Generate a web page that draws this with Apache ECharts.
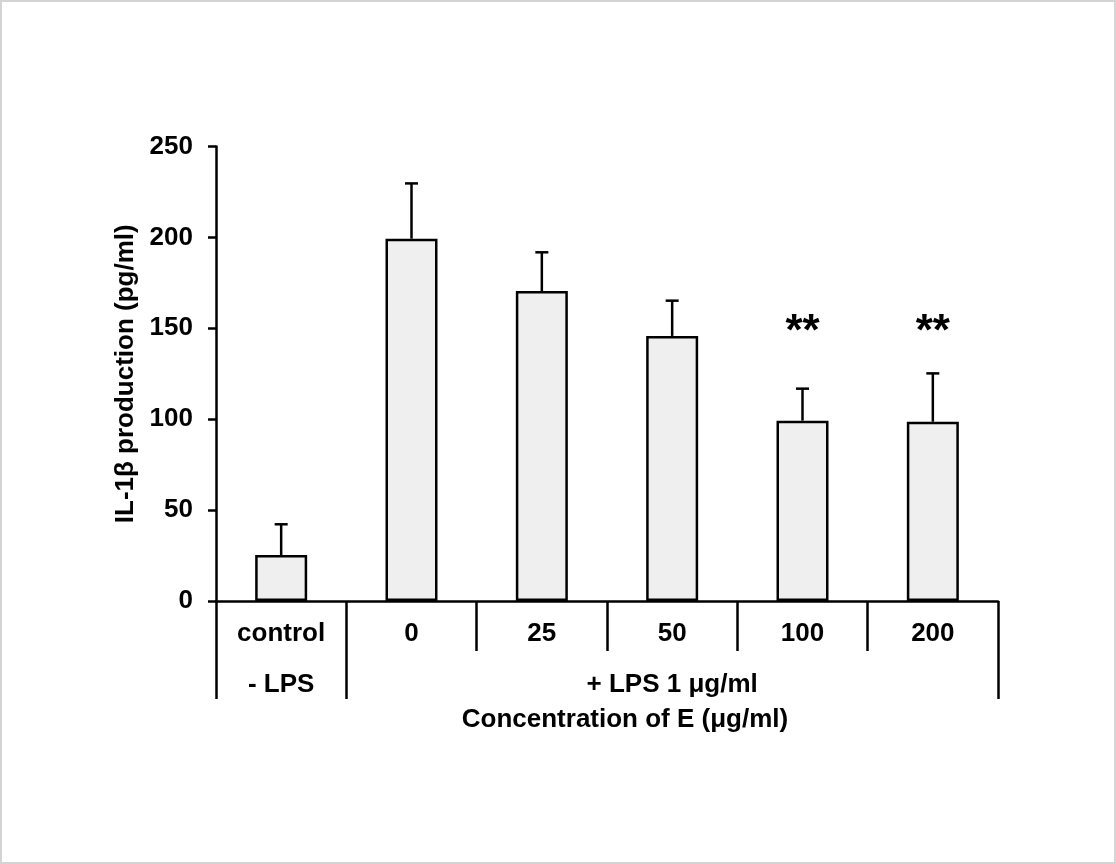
<!DOCTYPE html>
<html>
<head>
<meta charset="utf-8">
<script src="https://cdn.jsdelivr.net/npm/echarts@6/dist/echarts.min.js"></script>
<style>
  html, body { margin: 0; padding: 0; background: #fff; }
  #main { width: 1116px; height: 864px; }
  #frame {
    position: absolute; left: 0; top: 0; width: 1116px; height: 864px;
    box-sizing: border-box; border: 2px solid #d4d4d4; pointer-events: none;
  }
</style>
</head>
<body>
<div id="main"></div>
<div id="frame"></div>
<script>
// values
let categories = ['control', '0', '25', '50', '100', '200']
let lpsLabels = ['- LPS', '', '', '+ LPS 1 μg/ml', '', '']
let means = [25.3, 199.3, 170.5, 145.8, 99.2, 98.6]
let errors = [16.9, 30.4, 21.3, 19.4, 17.6, 26.6]
let marks = ['', '', '', '', '**', '**']
let yTicks = [0, 50, 100, 150, 200, 250]

let sigLevel = 147.5 // y value where the ** sit
let font = 'Liberation Sans, Arial, sans-serif'
let lw = 2.5

let errData = means.map((m, i) => [i, m, m + errors[i]])
let sigData = marks.map((s, i) => [i, sigLevel, s]).filter(d => d[2])

function renderError(params, api) {
  let top = api.coord([api.value(0), api.value(2)])
  let base = api.coord([api.value(0), api.value(1)])
  let half = 6.5
  let style = { stroke: '#000', lineWidth: lw }
  return {
    type: 'group',
    children: [
      { type: 'line', shape: { x1: base[0], y1: base[1], x2: top[0], y2: top[1] }, style },
      { type: 'line', shape: { x1: top[0] - half, y1: top[1], x2: top[0] + half, y2: top[1] }, style }
    ]
  }
}

function renderSig(params, api) {
  let pos = api.coord([api.value(0), api.value(1)])
  return {
    type: 'text',
    x: pos[0],
    y: pos[1],
    style: {
      text: sigData[params.dataIndex][2],
      fill: '#000',
      font: 'bold 44px ' + font,
      align: 'center',
      verticalAlign: 'middle'
    }
  }
}

let chart = echarts.init(document.getElementById('main'))
let labelStyle = { color: '#000', fontSize: 26, fontWeight: 'bold', fontFamily: font }

chart.setOption({
  animation: false,
  grid: { left: 216, right: 118, top: 146.5, bottom: 263 },
  xAxis: [
    {
      type: 'category',
      data: categories,
      axisLine: { lineStyle: { color: '#000', width: lw } },
      axisTick: { show: true, interval: 0, length: 50, lineStyle: { color: '#000', width: lw } },
      axisLabel: Object.assign({ interval: 0, margin: 20 }, labelStyle)
    },
    {
      type: 'category',
      position: 'bottom',
      data: categories,
      axisLine: { show: false },
      axisTick: {
        show: true,
        interval: (i) => i === 0 || i === 1,
        length: 98,
        lineStyle: { color: '#000', width: lw }
      },
      axisLabel: Object.assign({
        interval: 0,
        margin: 71,
        formatter: (v, i) => lpsLabels[i]
      }, labelStyle),
      name: 'Concentration of E (μg/ml)',
      nameLocation: 'middle',
      nameGap: 106,
      nameTextStyle: Object.assign({ padding: [0, 0, 0, 36] }, labelStyle)
    }
  ],
  yAxis: {
    type: 'value',
    min: yTicks[0],
    max: yTicks[yTicks.length - 1],
    interval: 50,
    splitLine: { show: false },
    axisLine: { show: true, lineStyle: { color: '#000', width: lw } },
    axisTick: { show: true, length: 8, lineStyle: { color: '#000', width: lw } },
    axisLabel: Object.assign({ margin: 23 }, labelStyle),
    name: 'IL-1β production (pg/ml)',
    nameLocation: 'middle',
    nameGap: 72,
    nameTextStyle: labelStyle
  },
  series: [
    {
      type: 'bar',
      data: means,
      barWidth: 52,
      itemStyle: { color: '#efefef', borderColor: '#000', borderWidth: lw },
      z: 2
    },
    {
      type: 'custom',
      data: errData,
      renderItem: renderError,
      z: 3
    },
    {
      type: 'custom',
      data: sigData,
      renderItem: renderSig,
      z: 4
    }
  ]
})
</script>
</body>
</html>
